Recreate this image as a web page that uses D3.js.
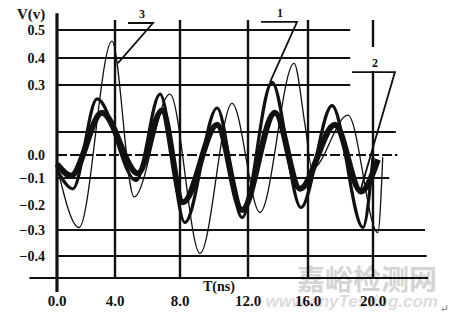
<!DOCTYPE html>
<html lang="zh">
<head>
    <meta charset="UTF-8">
    <title>V(v) - T(ns)</title>
    <script src="https://d3js.org/d3.v7.min.js"></script>
    <style>
        body {
            margin: 0;
            background: #fff;
        }
        svg {
            display: block;
            background: #fff;
        }
        text {
            font-family: "Liberation Serif", "DejaVu Serif", serif;
            font-weight: bold;
            fill: #111;
        }
        line.grid {
            stroke: #111;
            stroke-width: 2;
        }
        line.vgrid {
            stroke: #111;
            stroke-width: 2.4;
        }
        path.wave {
            fill: none;
            stroke: #111;
            stroke-linejoin: round;
        }
        path.leader {
            fill: none;
            stroke: #111;
            stroke-width: 1.8;
        }
        text.mark {
            font-family: "Noto Sans CJK SC", sans-serif;
            font-weight: bold;
            fill: #d4d4d4;
        }
    </style>
</head>
<body>
<script>
    // tick values / labels
    var tickT = [0, 4, 8, 12, 16, 20];
    var tickTLabels = ["0.0", "4.0", "8.0", "12.0", "16.0", "20.0"];
    var tickV = [0.5, 0.4, 0.3, 0.0, -0.1, -0.2, -0.3, -0.4];
    var tickVLabels = ["0.5", "0.4", "0.3", "0.0", "\u22120.1", "\u22120.2", "\u22120.3", "\u22120.4"];

    // horizontal grid lines (value, start time, end time)
    var hGrid = [0.5, 0.4, 0.3, 0.1, 0.0, -0.1, -0.3, -0.4, -0.5];
    var hGridStart = [0, 0, 0, 0, 0, 0, 0, 0, -1.9];
    var hGridEnd = [18.6, 18.6, 18.6, 21.4, 21.5, 21.0, 23.2, 23.3, 23.4];
    var vGrid = [4, 8, 12, 16, 20];

    // curve 1 (medium line)
    var wave1T = [0, 1.1, 2.76, 5.3, 6.77, 8.29, 10.18, 11.65, 13.6, 15.53, 17.48, 19.38, 20.0];
    var wave1V = [-0.065, -0.14, 0.24, -0.11, 0.26, -0.27, 0.2, -0.25, 0.31, -0.21, 0.21, -0.29, -0.01];

    // curve 2 (heavy line)
    var wave2T = [0, 0.97, 3.1, 5.41, 6.89, 8.18, 10.18, 11.65, 13.8, 15.47, 17.66, 19.26, 20.3];
    var wave2V = [-0.04, -0.09, 0.18, -0.08, 0.19, -0.19, 0.13, -0.22, 0.18, -0.14, 0.13, -0.15, -0.02];

    // curve 3 (thin line)
    var wave3T = [0, 1.52, 3.79, 5.17, 7.38, 9.18, 11.06, 12.8, 15.07, 15.8, 16.25, 18.46, 20.3, 20.6];
    var wave3V = [-0.05, -0.29, 0.46, -0.17, 0.26, -0.39, 0.22, -0.23, 0.38, 0.13, -0.06, 0.17, -0.31, -0.01];

    // callouts: label, label position, leader points
    var calloutNames = ["3", "1", "2"];
    var calloutAt = [[5.66, 0.543], [14.13, 0.546], [20.12, 0.367]];
    var calloutPaths = [
        [[4.8, 0.525], [6.34, 0.525], [4.18, 0.381]],
        [[12.87, 0.529], [15.27, 0.529], [13.47, 0.311]],
        [[18.71, 0.348], [21.35, 0.348], [19.2, -0.152]]
    ];

    var width = 450;
    var height = 320;

    // the scanned axes are not perfectly even, so the scales follow the grid
    var x = d3.scaleLinear()
            .domain([0, 4, 8, 12, 16, 20])
            .range([57, 115, 180, 248, 308, 373]);
    var y = d3.scaleLinear()
            .domain([-0.5, -0.4, -0.3, -0.2, -0.1, 0, 0.1, 0.2, 0.3, 0.4, 0.5])
            .range([278, 256, 230, 205, 178, 155, 132, 108, 85, 58, 30]);

    var svg = d3.select("body").append("svg")
            .attr("width", width)
            .attr("height", height);

    // watermark
    svg.append("text").attr("class", "mark")
            .attr("x", 437).attr("y", 290)
            .attr("text-anchor", "end")
            .attr("font-size", 28)
            .text("嘉峪检测网");
    svg.append("text")
            .attr("x", 438).attr("y", 307)
            .attr("text-anchor", "end")
            .attr("font-size", 17)
            .attr("font-style", "italic")
            .style("fill", "#dcdcdc")
            .style("font-family", "'Liberation Sans', sans-serif")
            .text("www.anyTesting.com");

    // grid
    svg.selectAll("line.grid")
            .data(hGrid)
            .enter()
            .append("line")
            .attr("class", "grid")
            .attr("x1", function (d, i) { return x(hGridStart[i]); })
            .attr("x2", function (d, i) { return x(hGridEnd[i]); })
            .attr("y1", function (d) { return y(d); })
            .attr("y2", function (d) { return y(d); })
            .attr("stroke-dasharray", function (d) { return d === 0 ? "10,3" : null; });

    svg.selectAll("line.vgrid")
            .data(vGrid)
            .enter()
            .append("line")
            .attr("class", "vgrid")
            .attr("x1", function (d) { return x(d); })
            .attr("x2", function (d) { return x(d); })
            .attr("y1", y(0.536))
            .attr("y2", y(-0.5));

    // y axis
    svg.append("line")
            .attr("x1", x(0)).attr("x2", x(0))
            .attr("y1", y(0.56)).attr("y2", y(-0.564))
            .attr("stroke", "#111")
            .attr("stroke-width", 3.2);

    // waves
    var line = d3.line()
            .x(function (d) { return x(d[0]); })
            .y(function (d) { return y(d[1]); })
            .curve(d3.curveMonotoneX);

    var waves = [
        {t: wave2T, v: wave2V, w: 6},
        {t: wave1T, v: wave1V, w: 3.2},
        {t: wave3T, v: wave3V, w: 1.3}
    ];

    svg.selectAll("path.wave")
            .data(waves)
            .enter()
            .append("path")
            .attr("class", "wave")
            .attr("stroke-width", function (d) { return d.w; })
            .attr("d", function (d) {
                return line(d.t.map(function (t, i) { return [t, d.v[i]]; }));
            });

    // callouts
    var straight = d3.line()
            .x(function (d) { return x(d[0]); })
            .y(function (d) { return y(d[1]); });

    svg.append("rect")
            .attr("x", x(20) - 7).attr("y", y(0.5) + 17)
            .attr("width", 14).attr("height", 24)
            .attr("fill", "#fff");

    svg.selectAll("path.leader")
            .data(calloutPaths)
            .enter()
            .append("path")
            .attr("class", "leader")
            .attr("d", straight);

    svg.selectAll("text.callout")
            .data(calloutNames)
            .enter()
            .append("text")
            .attr("class", "callout")
            .attr("x", function (d, i) { return x(calloutAt[i][0]); })
            .attr("y", function (d, i) { return y(calloutAt[i][1]); })
            .attr("text-anchor", "middle")
            .attr("font-size", 12)
            .text(function (d) { return d; });

    // tick labels
    svg.selectAll("text.ytick")
            .data(tickV)
            .enter()
            .append("text")
            .attr("class", "ytick")
            .attr("x", 45)
            .attr("y", function (d) { return y(d) + 5; })
            .attr("text-anchor", "end")
            .attr("font-size", 14)
            .text(function (d, i) { return tickVLabels[i]; });

    svg.selectAll("text.xtick")
            .data(tickT)
            .enter()
            .append("text")
            .attr("class", "xtick")
            .attr("x", function (d) { return x(d); })
            .attr("y", 306)
            .attr("text-anchor", "middle")
            .attr("font-size", 15)
            .text(function (d, i) { return tickTLabels[i]; });

    svg.append("text")
            .attr("x", 17).attr("y", 19)
            .attr("font-size", 15)
            .text("V(v)");

    svg.append("text")
            .attr("x", 203).attr("y", 291)
            .attr("font-size", 14)
            .text("T(ns)");

    svg.append("text")
            .attr("x", 440).attr("y", 312)
            .attr("font-size", 11)
            .style("font-weight", "normal")
            .style("fill", "#777")
            .text("\u21b5");
</script>
</body>
</html>
